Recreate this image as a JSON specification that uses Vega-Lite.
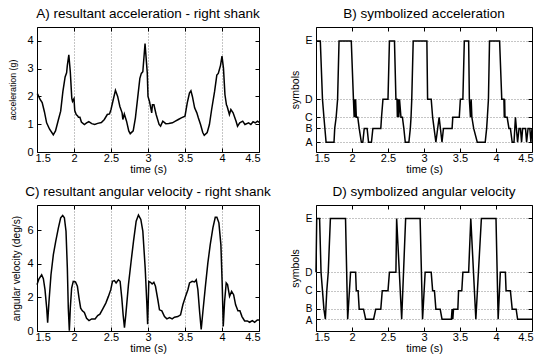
{
"$schema": "https://vega.github.io/schema/vega-lite/v6.json",
"padding": {"left": 8, "top": 6, "right": 4, "bottom": 2},
"config": {
  "font": "Liberation Sans",
  "view": {"stroke": "black", "strokeWidth": 1},
  "axis": {"domain": false, "tickColor": "black", "tickSize": -4, "tickWidth": 1, "labelColor": "black", "labelFontSize": 11, "titleColor": "black", "titleFontSize": 11, "titleFontWeight": "normal", "grid": false, "gridColor": "#8a8a8a", "gridDash": [1, 2], "gridWidth": 1, "labelFlush": false, "labelOverlap": false},
  "axisX": {"labelPadding": 4, "titlePadding": 0},
  "axisY": {"labelPadding": 8},
  "title": {"fontSize": 13.5, "fontWeight": "normal", "color": "black", "offset": 6, "anchor": "middle", "frame": "group"},
  "line": {"color": "black", "strokeWidth": 1.5}
},
"datasets": {
  "accLevels": [{"s": "A", "lv": 0.35}, {"s": "B", "lv": 0.85}, {"s": "C", "lv": 1.25}, {"s": "D", "lv": 1.9}, {"s": "E", "lv": 4.0}],
  "gyrLevels": [{"s": "A", "lv": 0.7}, {"s": "B", "lv": 1.3}, {"s": "C", "lv": 2.4}, {"s": "D", "lv": 3.5}, {"s": "E", "lv": 6.7}],
  "acc": [
    {"t":1.5,"v":2.1},{"t":1.51,"v":2.08},{"t":1.54,"v":1.9},{"t":1.57,"v":1.78},{"t":1.6,"v":1.45},{"t":1.63,"v":1.05},{"t":1.67,"v":0.82},{"t":1.72,"v":0.62},{"t":1.75,"v":0.76},{"t":1.79,"v":1.17},{"t":1.82,"v":1.47},{"t":1.85,"v":2.18},{"t":1.88,"v":2.7},{"t":1.9,"v":2.85},{"t":1.91,"v":3.12},{"t":1.93,"v":3.5},{"t":1.95,"v":2.89},{"t":1.97,"v":1.94},{"t":1.98,"v":1.82},{"t":2.0,"v":1.92},{"t":2.01,"v":1.49},{"t":2.03,"v":1.35},{"t":2.05,"v":1.3},{"t":2.06,"v":1.25},{"t":2.08,"v":1.25},{"t":2.1,"v":1.08},{"t":2.14,"v":0.99},{"t":2.17,"v":1.05},{"t":2.2,"v":1.09},{"t":2.24,"v":1.02},{"t":2.28,"v":0.99},{"t":2.32,"v":1.03},{"t":2.37,"v":1.06},{"t":2.41,"v":1.17},{"t":2.45,"v":1.35},{"t":2.48,"v":1.37},{"t":2.5,"v":1.53},{"t":2.53,"v":1.88},{"t":2.56,"v":2.22},{"t":2.59,"v":2.0},{"t":2.62,"v":1.64},{"t":2.65,"v":1.41},{"t":2.66,"v":1.17},{"t":2.68,"v":1.37},{"t":2.71,"v":1.11},{"t":2.74,"v":0.76},{"t":2.76,"v":0.66},{"t":2.8,"v":0.76},{"t":2.83,"v":1.23},{"t":2.86,"v":1.94},{"t":2.89,"v":2.65},{"t":2.91,"v":2.83},{"t":2.93,"v":2.89},{"t":2.96,"v":3.9},{"t":2.99,"v":2.85},{"t":3.0,"v":2.0},{"t":3.02,"v":1.82},{"t":3.05,"v":1.41},{"t":3.06,"v":1.7},{"t":3.08,"v":1.7},{"t":3.11,"v":1.35},{"t":3.15,"v":0.99},{"t":3.17,"v":0.93},{"t":3.2,"v":1.11},{"t":3.24,"v":1.02},{"t":3.28,"v":1.03},{"t":3.33,"v":1.05},{"t":3.37,"v":1.11},{"t":3.41,"v":1.17},{"t":3.45,"v":1.23},{"t":3.5,"v":1.29},{"t":3.53,"v":1.76},{"t":3.56,"v":2.12},{"t":3.58,"v":2.2},{"t":3.6,"v":2.0},{"t":3.63,"v":1.59},{"t":3.66,"v":1.41},{"t":3.68,"v":1.23},{"t":3.71,"v":0.99},{"t":3.74,"v":0.7},{"t":3.76,"v":0.6},{"t":3.8,"v":0.7},{"t":3.83,"v":0.99},{"t":3.86,"v":1.53},{"t":3.9,"v":2.18},{"t":3.93,"v":2.77},{"t":3.95,"v":2.83},{"t":3.98,"v":3.12},{"t":4.0,"v":3.45},{"t":4.02,"v":3.01},{"t":4.04,"v":2.06},{"t":4.06,"v":1.7},{"t":4.07,"v":1.64},{"t":4.1,"v":1.35},{"t":4.12,"v":1.53},{"t":4.15,"v":1.41},{"t":4.19,"v":1.11},{"t":4.21,"v":0.93},{"t":4.24,"v":1.05},{"t":4.28,"v":1.11},{"t":4.31,"v":0.99},{"t":4.36,"v":1.05},{"t":4.39,"v":0.99},{"t":4.42,"v":1.09},{"t":4.45,"v":1.05},{"t":4.48,"v":1.11},{"t":4.5,"v":1.07}
  ],
  "accSym": [
    {"t":1.5,"s":"E"},{"t":1.56,"s":"E"},{"t":1.59,"s":"D"},{"t":1.61,"s":"C"},{"t":1.64,"s":"A"},{"t":1.75,"s":"A"},{"t":1.76,"s":"B"},{"t":1.78,"s":"C"},{"t":1.8,"s":"D"},{"t":1.82,"s":"E"},{"t":1.99,"s":"E"},{"t":2.02,"s":"D"},{"t":2.03,"s":"C"},{"t":2.04,"s":"D"},{"t":2.045,"s":"C"},{"t":2.05,"s":"D"},{"t":2.06,"s":"C"},{"t":2.08,"s":"C"},{"t":2.1,"s":"B"},{"t":2.13,"s":"A"},{"t":2.15,"s":"A"},{"t":2.17,"s":"B"},{"t":2.21,"s":"B"},{"t":2.23,"s":"A"},{"t":2.27,"s":"A"},{"t":2.29,"s":"B"},{"t":2.4,"s":"B"},{"t":2.41,"s":"C"},{"t":2.43,"s":"D"},{"t":2.5,"s":"D"},{"t":2.52,"s":"E"},{"t":2.59,"s":"E"},{"t":2.61,"s":"D"},{"t":2.625,"s":"D"},{"t":2.63,"s":"C"},{"t":2.64,"s":"D"},{"t":2.65,"s":"C"},{"t":2.66,"s":"D"},{"t":2.68,"s":"C"},{"t":2.7,"s":"C"},{"t":2.72,"s":"B"},{"t":2.74,"s":"A"},{"t":2.79,"s":"A"},{"t":2.81,"s":"B"},{"t":2.82,"s":"C"},{"t":2.83,"s":"D"},{"t":2.85,"s":"E"},{"t":3.04,"s":"E"},{"t":3.05,"s":"D"},{"t":3.1,"s":"D"},{"t":3.12,"s":"C"},{"t":3.14,"s":"B"},{"t":3.165,"s":"A"},{"t":3.21,"s":"C"},{"t":3.25,"s":"A"},{"t":3.27,"s":"B"},{"t":3.39,"s":"B"},{"t":3.4,"s":"C"},{"t":3.49,"s":"C"},{"t":3.505,"s":"D"},{"t":3.54,"s":"D"},{"t":3.56,"s":"E"},{"t":3.62,"s":"E"},{"t":3.63,"s":"D"},{"t":3.645,"s":"C"},{"t":3.655,"s":"D"},{"t":3.665,"s":"C"},{"t":3.69,"s":"B"},{"t":3.74,"s":"A"},{"t":3.85,"s":"A"},{"t":3.87,"s":"B"},{"t":3.88,"s":"C"},{"t":3.895,"s":"D"},{"t":3.91,"s":"E"},{"t":4.05,"s":"E"},{"t":4.08,"s":"D"},{"t":4.11,"s":"D"},{"t":4.115,"s":"C"},{"t":4.12,"s":"D"},{"t":4.125,"s":"C"},{"t":4.155,"s":"C"},{"t":4.18,"s":"B"},{"t":4.2,"s":"B"},{"t":4.225,"s":"A"},{"t":4.25,"s":"A"},{"t":4.27,"s":"C"},{"t":4.3,"s":"A"},{"t":4.32,"s":"B"},{"t":4.34,"s":"B"},{"t":4.355,"s":"A"},{"t":4.37,"s":"B"},{"t":4.41,"s":"B"},{"t":4.425,"s":"A"},{"t":4.445,"s":"B"},{"t":4.47,"s":"B"},{"t":4.485,"s":"A"},{"t":4.5,"s":"B"}
  ],
  "gyr": [
    {"t":1.5,"v":2.76},{"t":1.527,"v":3.11},{"t":1.563,"v":3.35},{"t":1.586,"v":3.11},{"t":1.608,"v":2.46},{"t":1.631,"v":1.36},{"t":1.644,"v":0.5},{"t":1.662,"v":1.76},{"t":1.689,"v":3.35},{"t":1.721,"v":4.55},{"t":1.753,"v":5.34},{"t":1.789,"v":6.14},{"t":1.82,"v":6.74},{"t":1.847,"v":6.88},{"t":1.87,"v":6.74},{"t":1.892,"v":5.94},{"t":1.91,"v":3.75},{"t":1.923,"v":1.36},{"t":1.937,"v":0.02},{"t":1.95,"v":1.36},{"t":1.968,"v":2.56},{"t":1.99,"v":2.95},{"t":2.02,"v":2.92},{"t":2.046,"v":2.66},{"t":2.068,"v":1.96},{"t":2.09,"v":1.36},{"t":2.113,"v":1.2},{"t":2.14,"v":1.1},{"t":2.17,"v":0.76},{"t":2.203,"v":0.62},{"t":2.239,"v":0.72},{"t":2.285,"v":0.72},{"t":2.32,"v":0.92},{"t":2.35,"v":1.0},{"t":2.389,"v":1.32},{"t":2.43,"v":1.66},{"t":2.465,"v":2.06},{"t":2.497,"v":2.46},{"t":2.52,"v":2.96},{"t":2.546,"v":3.0},{"t":2.569,"v":2.86},{"t":2.6,"v":3.05},{"t":2.623,"v":2.96},{"t":2.646,"v":1.96},{"t":2.664,"v":0.96},{"t":2.682,"v":0.2},{"t":2.7,"v":0.96},{"t":2.736,"v":2.76},{"t":2.772,"v":4.15},{"t":2.804,"v":5.34},{"t":2.84,"v":6.54},{"t":2.871,"v":6.9},{"t":2.903,"v":6.64},{"t":2.93,"v":5.94},{"t":2.962,"v":3.75},{"t":2.985,"v":1.56},{"t":2.995,"v":0.4},{"t":3.011,"v":2.95},{"t":3.034,"v":2.9},{"t":3.056,"v":2.8},{"t":3.079,"v":2.9},{"t":3.101,"v":2.66},{"t":3.133,"v":1.86},{"t":3.155,"v":1.26},{"t":3.187,"v":1.2},{"t":3.223,"v":0.86},{"t":3.255,"v":0.72},{"t":3.291,"v":0.8},{"t":3.327,"v":0.72},{"t":3.358,"v":0.82},{"t":3.403,"v":0.86},{"t":3.44,"v":0.96},{"t":3.471,"v":1.56},{"t":3.507,"v":2.06},{"t":3.539,"v":2.46},{"t":3.561,"v":2.86},{"t":3.597,"v":2.96},{"t":3.629,"v":2.92},{"t":3.652,"v":3.05},{"t":3.674,"v":2.46},{"t":3.697,"v":1.16},{"t":3.719,"v":0.1},{"t":3.742,"v":1.16},{"t":3.778,"v":2.76},{"t":3.809,"v":4.05},{"t":3.841,"v":5.14},{"t":3.877,"v":6.14},{"t":3.909,"v":6.77},{"t":3.931,"v":6.77},{"t":3.958,"v":6.44},{"t":3.985,"v":5.14},{"t":4.003,"v":2.76},{"t":4.017,"v":0.27},{"t":4.035,"v":1.76},{"t":4.057,"v":2.86},{"t":4.075,"v":2.76},{"t":4.102,"v":2.06},{"t":4.13,"v":2.36},{"t":4.157,"v":2.16},{"t":4.184,"v":1.56},{"t":4.215,"v":1.2},{"t":4.242,"v":1.2},{"t":4.27,"v":0.86},{"t":4.306,"v":0.6},{"t":4.342,"v":0.6},{"t":4.373,"v":0.52},{"t":4.41,"v":0.62},{"t":4.441,"v":0.52},{"t":4.477,"v":0.66},{"t":4.5,"v":0.66}
  ],
  "gyrSym": [
    {"t":1.5,"s":"D"},{"t":1.51,"s":"E"},{"t":1.55,"s":"E"},{"t":1.57,"s":"D"},{"t":1.59,"s":"C"},{"t":1.61,"s":"B"},{"t":1.63,"s":"A"},{"t":1.65,"s":"C"},{"t":1.67,"s":"D"},{"t":1.7,"s":"E"},{"t":1.91,"s":"E"},{"t":1.94,"s":"A"},{"t":1.98,"s":"D"},{"t":2.05,"s":"D"},{"t":2.06,"s":"C"},{"t":2.085,"s":"C"},{"t":2.1,"s":"B"},{"t":2.16,"s":"B"},{"t":2.19,"s":"A"},{"t":2.3,"s":"A"},{"t":2.33,"s":"B"},{"t":2.4,"s":"B"},{"t":2.42,"s":"C"},{"t":2.5,"s":"C"},{"t":2.52,"s":"D"},{"t":2.61,"s":"D"},{"t":2.62,"s":"E"},{"t":2.69,"s":"A"},{"t":2.745,"s":"E"},{"t":2.946,"s":"E"},{"t":2.98,"s":"A"},{"t":3.016,"s":"D"},{"t":3.1,"s":"D"},{"t":3.12,"s":"C"},{"t":3.145,"s":"C"},{"t":3.165,"s":"B"},{"t":3.225,"s":"B"},{"t":3.25,"s":"A"},{"t":3.38,"s":"A"},{"t":3.39,"s":"B"},{"t":3.4,"s":"A"},{"t":3.41,"s":"B"},{"t":3.47,"s":"B"},{"t":3.48,"s":"C"},{"t":3.525,"s":"C"},{"t":3.54,"s":"D"},{"t":3.62,"s":"D"},{"t":3.65,"s":"E"},{"t":3.72,"s":"A"},{"t":3.797,"s":"E"},{"t":4.0,"s":"E"},{"t":4.03,"s":"A"},{"t":4.06,"s":"D"},{"t":4.13,"s":"D"},{"t":4.14,"s":"C"},{"t":4.2,"s":"C"},{"t":4.225,"s":"B"},{"t":4.28,"s":"B"},{"t":4.3,"s":"A"},{"t":4.5,"s":"A"}
  ]
},
"columns": 2,
"spacing": {"row": 53, "column": 57},
"bounds": "flush",
"concat": [
  {
    "width": 222, "height": 125,
    "title": "A) resultant acceleration - right shank",
    "data": {"name": "acc"},
    "layer": [
      {"mark": "line", "encoding": {
        "x": {"field": "t", "type": "quantitative", "scale": {"domain": [1.5, 4.5], "nice": false, "zero": false},
              "axis": {"values": [1.5, 2, 2.5, 3, 3.5, 4, 4.5], "format": "~g", "title": "time (s)", "grid": true,
                       "labelAlign": {"condition": [{"test": "datum.value <= 1.5", "value": "left"}, {"test": "datum.value >= 4.5", "value": "right"}], "value": "center"},
                       "labelOffset": {"condition": [{"test": "datum.value <= 1.5", "value": -2}, {"test": "datum.value >= 4.5", "value": 1}], "value": 0},
                       "gridOpacity": {"condition": {"test": "datum.value <= 1.5 || datum.value >= 4.5", "value": 0}, "value": 1}}},
        "y": {"field": "v", "type": "quantitative", "scale": {"domain": [0, 4.5], "nice": false},
              "axis": {"values": [0, 1, 2, 3, 4], "title": "acceleration (g)", "titleFontSize": 8.8, "titlePadding": 9}}
      }},
      {"mark": {"type": "line", "opacity": 0}, "encoding": {
        "x": {"field": "t", "type": "quantitative", "axis": {"orient": "top", "values": [1.5, 2, 2.5, 3, 3.5, 4, 4.5], "labels": false, "title": null}},
        "y": {"field": "v", "type": "quantitative", "axis": {"orient": "right", "values": [0, 1, 2, 3, 4], "labels": false, "title": null}}
      }}
    ],
    "resolve": {"axis": {"x": "independent", "y": "independent"}}
  },
  {
    "width": 216, "height": 125,
    "title": "B) symbolized acceleration",
    "data": {"name": "accSym"},
    "transform": [{"lookup": "s", "from": {"data": {"name": "accLevels"}, "key": "s", "fields": ["lv"]}}],
    "layer": [
      {"mark": "line", "encoding": {
        "x": {"field": "t", "type": "quantitative", "scale": {"domain": [1.5, 4.5], "nice": false, "zero": false},
              "axis": {"values": [1.5, 2, 2.5, 3, 3.5, 4, 4.5], "format": "~g", "title": "time (s)",
                       "labelAlign": {"condition": [{"test": "datum.value <= 1.5", "value": "left"}, {"test": "datum.value >= 4.5", "value": "right"}], "value": "center"},
                       "labelOffset": {"condition": [{"test": "datum.value <= 1.5", "value": -2}, {"test": "datum.value >= 4.5", "value": 1}], "value": 0}}},
        "y": {"field": "lv", "type": "quantitative", "scale": {"domain": [0, 4.5], "nice": false},
              "axis": {"values": [0.35, 0.85, 1.25, 1.9, 4.0], "grid": true, "title": "symbols", "titleFontSize": 10.5, "titlePadding": 4, "labelFontSize": 10.5,
                       "labelExpr": "datum.value == 4 ? 'E' : datum.value == 1.9 ? 'D' : datum.value == 1.25 ? 'C' : datum.value == 0.85 ? 'B' : 'A'"}}
      }},
      {"mark": {"type": "line", "opacity": 0}, "encoding": {
        "x": {"field": "t", "type": "quantitative", "axis": {"orient": "top", "values": [1.5, 2, 2.5, 3, 3.5, 4, 4.5], "labels": false, "title": null}},
        "y": {"field": "lv", "type": "quantitative", "axis": {"orient": "right", "values": [0.35, 0.85, 1.25, 1.9, 4.0], "labels": false, "title": null}}
      }}
    ],
    "resolve": {"axis": {"x": "independent", "y": "independent"}}
  },
  {
    "width": 222, "height": 126,
    "title": "C) resultant angular velocity - right shank",
    "data": {"name": "gyr"},
    "layer": [
      {"mark": "line", "encoding": {
        "x": {"field": "t", "type": "quantitative", "scale": {"domain": [1.5, 4.5], "nice": false, "zero": false},
              "axis": {"values": [1.5, 2, 2.5, 3, 3.5, 4, 4.5], "format": "~g", "title": "time (s)", "grid": true,
                       "labelAlign": {"condition": [{"test": "datum.value <= 1.5", "value": "left"}, {"test": "datum.value >= 4.5", "value": "right"}], "value": "center"},
                       "labelOffset": {"condition": [{"test": "datum.value <= 1.5", "value": -2}, {"test": "datum.value >= 4.5", "value": 1}], "value": 0},
                       "gridOpacity": {"condition": {"test": "datum.value <= 1.5 || datum.value >= 4.5", "value": 0}, "value": 1}}},
        "y": {"field": "v", "type": "quantitative", "scale": {"domain": [0, 7.5], "nice": false},
              "axis": {"values": [0, 2, 4, 6], "title": "angular velocity (deg/s)", "titleFontSize": 10.2, "titlePadding": 5}}
      }},
      {"mark": {"type": "line", "opacity": 0}, "encoding": {
        "x": {"field": "t", "type": "quantitative", "axis": {"orient": "top", "values": [1.5, 2, 2.5, 3, 3.5, 4, 4.5], "labels": false, "title": null}},
        "y": {"field": "v", "type": "quantitative", "axis": {"orient": "right", "values": [0, 2, 4, 6], "labels": false, "title": null}}
      }}
    ],
    "resolve": {"axis": {"x": "independent", "y": "independent"}}
  },
  {
    "width": 216, "height": 126,
    "title": "D) symbolized angular velocity",
    "data": {"name": "gyrSym"},
    "transform": [{"lookup": "s", "from": {"data": {"name": "gyrLevels"}, "key": "s", "fields": ["lv"]}}],
    "layer": [
      {"mark": "line", "encoding": {
        "x": {"field": "t", "type": "quantitative", "scale": {"domain": [1.5, 4.5], "nice": false, "zero": false},
              "axis": {"values": [1.5, 2, 2.5, 3, 3.5, 4, 4.5], "format": "~g", "title": "time (s)",
                       "labelAlign": {"condition": [{"test": "datum.value <= 1.5", "value": "left"}, {"test": "datum.value >= 4.5", "value": "right"}], "value": "center"},
                       "labelOffset": {"condition": [{"test": "datum.value <= 1.5", "value": -2}, {"test": "datum.value >= 4.5", "value": 1}], "value": 0}}},
        "y": {"field": "lv", "type": "quantitative", "scale": {"domain": [0, 7.5], "nice": false},
              "axis": {"values": [0.7, 1.3, 2.4, 3.5, 6.7], "grid": true, "title": "symbols", "titleFontSize": 10.5, "titlePadding": 4, "labelFontSize": 10,
                       "labelOffset": {"condition": [{"test": "datum.value == 1.3", "value": -1}, {"test": "datum.value == 0.7", "value": 1}], "value": 0},
                       "labelExpr": "datum.value == 6.7 ? 'E' : datum.value == 3.5 ? 'D' : datum.value == 2.4 ? 'C' : datum.value == 1.3 ? 'B' : 'A'"}}
      }},
      {"mark": {"type": "line", "opacity": 0}, "encoding": {
        "x": {"field": "t", "type": "quantitative", "axis": {"orient": "top", "values": [1.5, 2, 2.5, 3, 3.5, 4, 4.5], "labels": false, "title": null}},
        "y": {"field": "lv", "type": "quantitative", "axis": {"orient": "right", "values": [0.7, 1.3, 2.4, 3.5, 6.7], "labels": false, "title": null}}
      }}
    ],
    "resolve": {"axis": {"x": "independent", "y": "independent"}}
  }
]
}
